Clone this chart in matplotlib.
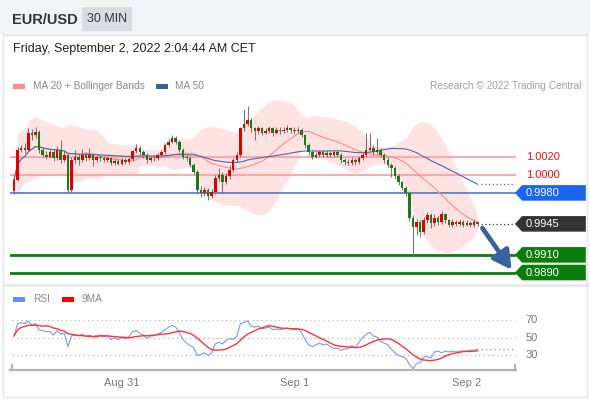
import matplotlib
matplotlib.use('Agg')
import matplotlib.pyplot as plt
import matplotlib.patches as mp
import matplotlib.transforms as mt
import numpy as np
import pandas as pd

plt.rcParams['font.family'] = ['Liberation Sans', 'DejaVu Sans']

# 30 min EUR/USD candles, Aug 30 09:00 -> Sep 2 01:30
first_open = 0.9982
closes = [0.9995, 1.0029, 1.0031, 1.0029, 1.0048, 1.0045, 1.0049, 1.0029, 1.0023, 1.0021,
          1.0026, 1.0019, 1.0029, 1.0017, 1.0023, 0.9983, 1.0017, 1.0021, 1.0017, 1.0023,
          1.0019, 1.0023, 1.0017, 1.0021, 1.0019, 1.0017, 1.0019, 1.0014, 1.0016, 1.0013,
          1.0017, 1.0015, 1.0018, 1.0027, 1.0031, 1.0026, 1.0023, 1.0017, 1.0019, 1.0019,
          1.0023, 1.0026, 1.0034, 1.0038, 1.0042, 1.0038, 1.0029, 1.0021, 1.0019, 1.0012,
          1.0004, 0.9983, 0.9980, 0.9983, 0.9976, 0.9981, 0.9997, 1.0000, 0.9992, 0.9999,
          1.0006, 1.0017, 1.0023, 1.0053, 1.0058, 1.0062, 1.0053, 1.0050, 1.0053, 1.0048,
          1.0050, 1.0053, 1.0048, 1.0051, 1.0050, 1.0051, 1.0053, 1.0051, 1.0050, 1.0051,
          1.0045, 1.0034, 1.0026, 1.0021, 1.0023, 1.0026, 1.0023, 1.0025, 1.0023, 1.0026,
          1.0023, 1.0017, 1.0015, 1.0014, 1.0017, 1.0015, 1.0019, 1.0023, 1.0029, 1.0031,
          1.0026, 1.0029, 1.0023, 1.0017, 1.0012, 1.0008, 0.9999, 0.9992, 0.9986, 0.9980,
          0.9952, 0.9941, 0.9947, 0.9936, 0.9949, 0.9955, 0.9946, 0.9952, 0.9947, 0.9956,
          0.9949, 0.9944, 0.9947, 0.9945, 0.9947, 0.9944, 0.9946, 0.9944, 0.9947, 0.9945]
highs = [0.9997, 1.0032, 1.0034, 1.0036, 1.0053, 1.0052, 1.0054, 1.0051, 1.0031, 1.0027,
         1.0030, 1.0028, 1.0033, 1.0040, 1.0027, 1.0025, 1.0020, 1.0028, 1.0024, 1.0030,
         1.0026, 1.0031, 1.0025, 1.0024, 1.0023, 1.0022, 1.0022, 1.0021, 1.0019, 1.0018,
         1.0019, 1.0019, 1.0021, 1.0029, 1.0035, 1.0033, 1.0028, 1.0025, 1.0022, 1.0023,
         1.0025, 1.0029, 1.0036, 1.0041, 1.0045, 1.0044, 1.0040, 1.0031, 1.0024, 1.0022,
         1.0014, 1.0006, 0.9988, 0.9987, 0.9985, 0.9984, 1.0000, 1.0008, 1.0004, 1.0003,
         1.0012, 1.0019, 1.0026, 1.0055, 1.0075, 1.0078, 1.0065, 1.0055, 1.0056, 1.0055,
         1.0053, 1.0056, 1.0055, 1.0054, 1.0054, 1.0055, 1.0057, 1.0055, 1.0054, 1.0054,
         1.0053, 1.0047, 1.0036, 1.0028, 1.0026, 1.0029, 1.0028, 1.0028, 1.0027, 1.0029,
         1.0028, 1.0025, 1.0019, 1.0018, 1.0020, 1.0019, 1.0022, 1.0026, 1.0048, 1.0048,
         1.0034, 1.0042, 1.0031, 1.0025, 1.0020, 1.0014, 1.0010, 1.0001, 0.9994, 0.9988,
         0.9982, 0.9955, 0.9950, 0.9949, 0.9953, 0.9958, 0.9957, 0.9956, 0.9954, 0.9959,
         0.9957, 0.9951, 0.9950, 0.9949, 0.9950, 0.9949, 0.9949, 0.9948, 0.9950, 0.9948]
lows = [0.9979, 0.9993, 1.0026, 1.0025, 1.0027, 1.0040, 1.0042, 1.0025, 1.0020, 1.0018,
        1.0019, 1.0016, 1.0017, 1.0014, 1.0015, 0.9980, 0.9981, 1.0014, 1.0012, 1.0015,
        1.0016, 1.0017, 1.0010, 1.0015, 1.0016, 1.0015, 1.0015, 1.0012, 1.0012, 1.0011,
        1.0011, 1.0013, 1.0013, 1.0016, 1.0025, 1.0023, 1.0019, 1.0014, 1.0015, 1.0016,
        1.0017, 1.0021, 1.0024, 1.0032, 1.0036, 1.0035, 1.0026, 1.0018, 1.0016, 1.0009,
        1.0001, 0.9979, 0.9975, 0.9977, 0.9972, 0.9974, 0.9979, 0.9994, 0.9980, 0.9990,
        0.9996, 1.0004, 1.0015, 1.0021, 1.0050, 1.0056, 1.0049, 1.0040, 1.0047, 1.0045,
        1.0046, 1.0048, 1.0044, 1.0046, 1.0047, 1.0048, 1.0049, 1.0048, 1.0047, 1.0048,
        1.0043, 1.0031, 1.0023, 1.0018, 1.0019, 1.0021, 1.0020, 1.0021, 1.0020, 1.0021,
        1.0020, 1.0014, 1.0012, 1.0011, 1.0012, 1.0012, 1.0013, 1.0017, 1.0021, 1.0027,
        1.0023, 1.0024, 1.0020, 1.0014, 1.0009, 0.9998, 0.9996, 0.9989, 0.9983, 0.9977,
        0.9948, 0.9910, 0.9932, 0.9930, 0.9934, 0.9946, 0.9940, 0.9943, 0.9944, 0.9945,
        0.9946, 0.9942, 0.9942, 0.9943, 0.9943, 0.9942, 0.9943, 0.9942, 0.9942, 0.9943]
rsi = [52, 66, 67, 66, 69, 64, 66, 59, 58, 57, 57, 53, 58, 54, 55, 40, 52, 53, 52, 54,
       51, 53, 51, 53, 52, 51, 52, 48, 50, 48, 50, 49, 51, 57, 58, 55, 53, 49, 52, 52,
       54, 56, 59, 62, 64, 62, 56, 48, 44, 41, 39, 30, 31, 33, 30, 33, 43, 45, 43, 47,
       49, 48, 52, 66, 67, 69, 63, 62, 63, 60, 61, 62, 59, 60, 59, 60, 61, 60, 59, 60,
       56, 48, 42, 40, 42, 44, 42, 43, 40, 38, 38, 36, 37, 38, 41, 39, 45, 50, 54, 56,
       52, 51, 46, 44, 42, 37, 33, 30, 29, 27, 20, 15, 21, 22, 28, 29, 27, 34, 35, 33,
       35, 34, 35, 34, 35, 35, 35, 36, 36, 37]

day_ticks = [30, 78, 126]
day_labels = ['Aug 31', 'Sep 1', 'Sep 2']

resist = [1.0020, 1.0000]
pivot = 0.9980
last_price = 0.9945
supports = [0.9910, 0.9890]
rsi_levels = [70, 50, 30]

W, H = 590, 400
def px(x0, y0, x1, y1):
    return [x0 / W, 1 - y1 / H, (x1 - x0) / W, (y1 - y0) / H]

fig = plt.figure(figsize=(W / 100, H / 100), dpi=100)
fig.patch.set_facecolor('white')

# background / decorations in pixel coords
ov = fig.add_axes([0, 0, 1, 1], zorder=0)
ov.set_xlim(0, W)
ov.set_ylim(H, 0)
ov.axis('off')
ov.add_patch(mp.Rectangle((0, 0), W, 35, facecolor='#f1f3f6', edgecolor='none'))
ov.add_patch(mp.Rectangle((82, 7), 50, 24, facecolor='#d9dde3', edgecolor='none'))
ov.text(12, 19.5, 'EUR/USD', fontsize=10.5, fontweight='bold', color='#333333', va='center')
ov.text(107, 19.5, '30 MIN', fontsize=9, color='#333333', va='center', ha='center')
ov.add_patch(mp.Rectangle((3, 35), 584, 362, facecolor='none', edgecolor='#e3e5e8', lw=1))
ov.plot([3, 587], [284.5, 284.5], color='#e6e8eb', lw=2)
ov.text(13, 49, 'Friday, September 2, 2022 2:04:44 AM CET', fontsize=9, color='#222222', va='center')

ov.add_patch(mp.Rectangle((13, 83.5), 12, 5, facecolor='#ff8a8a', edgecolor='none'))
ov.text(33, 86, 'MA 20 + Bollinger Bands', fontsize=7.3, color='#888888', va='center')
ov.add_patch(mp.Rectangle((156, 83.5), 12, 5, facecolor='#3a5f9f', edgecolor='none'))
ov.text(175, 86, 'MA 50', fontsize=7.3, color='#888888', va='center')
ov.text(581, 86, 'Research \u00a9 2022 Trading Central', fontsize=7.3, color='#a0a0a0', va='center', ha='right')

ov.add_patch(mp.Rectangle((13, 296.5), 12, 5, facecolor='#6b8ff0', edgecolor='none'))
ov.text(33, 299, 'RSI', fontsize=7.3, color='#888888', va='center')
ov.add_patch(mp.Rectangle((62, 296.5), 12, 5, facecolor='#ff0000', edgecolor='none'))
ov.text(82, 299, '9MA', fontsize=7.3, color='#888888', va='center')

# price panel
ax = fig.add_axes(px(10, 95, 516, 283), zorder=1)
ax.patch.set_alpha(0)
ax.set_xlim(-1.11, 139.68)
ax.set_ylim(0.98782, 1.00906)
ax.axis('off')

c = pd.Series(closes)
o = pd.Series([first_open] + closes[:-1])
idx = np.arange(len(c))
ma20 = c.rolling(20, min_periods=1).mean()
sd20 = c.rolling(20, min_periods=1).std(ddof=0)
ma50 = c.rolling(50, min_periods=1).mean()

ax.fill_between(idx, ma20 + 2 * sd20, ma20 - 2 * sd20, color='#ffdcdc', alpha=0.8, lw=0, zorder=1)
for r in resist:
    ax.axhline(r, color='#ff9a9a', lw=1.2, zorder=2)
ax.axhline(pivot, color='#3f6cc8', lw=1.1, zorder=2)
for s in supports:
    ax.axhline(s, color='#0c7d0c', lw=2, zorder=2)
ax.plot(idx, ma20, color='#ff8a8a', lw=0.8, zorder=3)
ax.plot(idx, ma50, color='#4a68a8', lw=0.8, zorder=3)
ax.plot([idx[-1] + 1, 139.4], [ma50.iloc[-1]] * 2, color='#4a68a8', lw=0.9, ls=(0, (1, 2)), zorder=3)
ax.plot([idx[-1] + 1, 139.4], [last_price] * 2, color='#333333', lw=0.9, ls=(0, (1, 2)), zorder=3)

up = c >= o
ax.vlines(idx, lows, highs, color='#777777', lw=0.8, zorder=4)
body = np.maximum((c - o).abs(), 0.00006)
ax.bar(idx[up], body[up], bottom=np.minimum(o, c)[up], width=0.7, color='#e00000', lw=0, zorder=5)
ax.bar(idx[~up], body[~up], bottom=np.minimum(o, c)[~up], width=0.7, color='#1a7a1a', lw=0, zorder=5)

ax.annotate('', xy=(138.9, 0.98905), xytext=(129.9, 0.99428),
            arrowprops=dict(arrowstyle='-|>,head_length=1.1,head_width=0.6', color='#3a62a0', lw=3.4),
            zorder=6)

blend = mt.blended_transform_factory(ax.transAxes, ax.transData)
hh = 0.00088
def tag(p, color):
    pts = [(0.998, p), (1.012, p + hh), (1.138, p + hh), (1.138, p - hh), (1.012, p - hh)]
    ax.add_patch(mp.Polygon(pts, closed=True, facecolor=color, edgecolor='none',
                            transform=blend, clip_on=False, zorder=6))
    ax.text(1.02, p, '%.4f' % p, transform=blend, color='white', fontsize=8, va='center', zorder=7)

for r in resist:
    ax.text(1.02, r, '%.4f' % r, transform=blend, color='#ee1111', fontsize=8, va='center')
tag(pivot, '#1a66f0')
tag(last_price, '#333333')
for s in supports:
    tag(s, '#0c7d0c')

# RSI panel
ra = fig.add_axes(px(10, 305, 516, 370), zorder=1)
ra.patch.set_alpha(0)
ra.set_xlim(-1.11, 139.68)
ra.set_ylim(13.66, 86.9)
for side in ['top', 'right', 'left']:
    ra.spines[side].set_visible(False)
ra.spines['bottom'].set_color('#b4b4b4')
ra.spines['bottom'].set_linewidth(1.6)
ra.set_yticks([])
ra.set_xticks(day_ticks)
ra.set_xticklabels(day_labels, fontsize=8, color='#777777')
ra.tick_params(axis='x', length=0, pad=6)
for xe in [0.003, 0.999]:
    ra.plot([xe, xe], [0, 0.07], transform=ra.transAxes, color='#b4b4b4', lw=1.6, clip_on=False)

r = pd.Series(rsi)
for lv in rsi_levels:
    ra.axhline(lv, xmin=0.004, xmax=0.998, color='#aaaaaa', lw=0.8, ls=(0, (1, 3)))
    ra.text(1.018, lv, str(lv), transform=mt.blended_transform_factory(ra.transAxes, ra.transData),
            fontsize=8, color='#777777', va='center')
ra.plot(idx, r, color='#7b98ee', lw=0.8)
ra.plot(idx, r.rolling(9, min_periods=1).mean(), color='#ff3333', lw=1.0)
ra.plot([idx[-1] + 1, 139.4], [r.iloc[-1]] * 2, color='#6b8ff0', lw=0.9, ls=(0, (1, 2.5)))

fig.savefig('out.png', dpi=100)
